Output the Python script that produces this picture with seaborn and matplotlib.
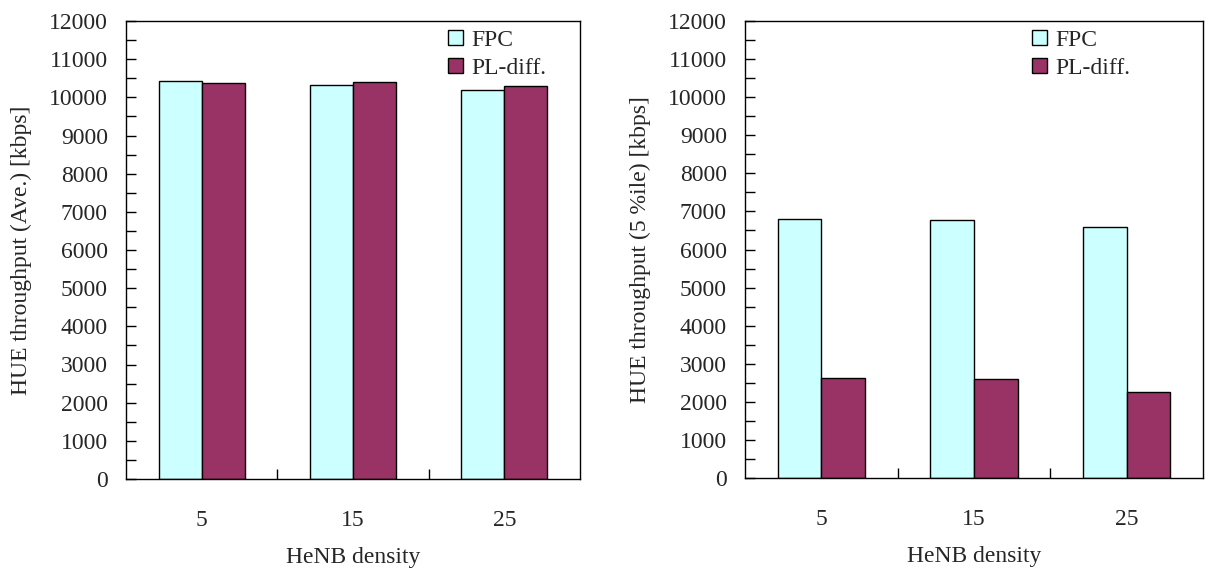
import numpy as np
import pandas as pd
import seaborn as sns
import matplotlib.pyplot as plt
from matplotlib.patches import Patch
from matplotlib.ticker import MultipleLocator, FixedLocator

densities = ['5', '15', '25']
schemes = ['FPC', 'PL-diff.']

ave_fpc = [10430, 10325, 10195]
ave_pl = [10380, 10400, 10300]

pct5_fpc = [6795, 6770, 6595]
pct5_pl = [2620, 2595, 2260]

ylabels = ['HUE throughput (Ave.) [kbps]', 'HUE throughput (5 %ile) [kbps]']
xlabel = 'HeNB density'

colors = ['#CCFFFF', '#993366']

def frame(fpc, pl):
    return pd.DataFrame({
        'density': densities * 2,
        'scheme': [schemes[0]] * 3 + [schemes[1]] * 3,
        'value': list(fpc) + list(pl),
    })

sns.set_theme(style='white')
plt.rcParams['font.family'] = ['Liberation Serif', 'DejaVu Serif']
fs = 17
plt.rcParams['font.size'] = fs

fig = plt.figure(figsize=(12.05, 5.72), dpi=100)
boxes = [
    [126 / 1205, 1 - 479 / 572, 454 / 1205, 458 / 572],
    [745 / 1205, 1 - 478 / 572, 458 / 1205, 457 / 572],
]
legend_x = [0.709, 0.627]

for (box, data, ylab, lx) in zip(boxes,
                                 [(ave_fpc, ave_pl), (pct5_fpc, pct5_pl)],
                                 ylabels, legend_x):
    ax = fig.add_axes(box)
    df = frame(*data)
    sns.barplot(data=df, x='density', y='value', hue='scheme',
                palette=colors, edgecolor='black', linewidth=1,
                width=0.57, gap=0, errorbar=None, legend=False,
                saturation=1, ax=ax)

    ax.set_xlim(-0.5, 2.5)
    ax.set_ylim(0, 12000)
    ax.yaxis.set_major_locator(MultipleLocator(1000))
    ax.yaxis.set_minor_locator(MultipleLocator(500))
    ax.xaxis.set_minor_locator(FixedLocator([0.5, 1.5]))

    ax.tick_params(axis='y', which='both', direction='in', length=7,
                   width=1, color='black', left=True, labelsize=fs, pad=13)
    ax.tick_params(axis='x', which='major', length=0, labelsize=fs, pad=22)
    ax.tick_params(axis='x', which='minor', direction='in', length=7,
                   width=1, color='black', bottom=True)

    for s in ax.spines.values():
        s.set_color('black')
        s.set_linewidth(1)

    ax.set_ylabel(ylab, fontsize=fs, labelpad=12)
    ax.set_xlabel(xlabel, fontsize=fs, labelpad=12)

    handles = [Patch(facecolor=c, edgecolor='black', linewidth=1)
               for c in colors]
    ax.legend(handles, schemes, loc='upper left', bbox_to_anchor=(lx, 0.981),
              frameon=False, fontsize=fs, borderpad=0, borderaxespad=0,
              handlelength=0.64, handleheight=0.64, handletextpad=0.36,
              labelspacing=0.3)

fig.savefig('out.png', dpi=100)
